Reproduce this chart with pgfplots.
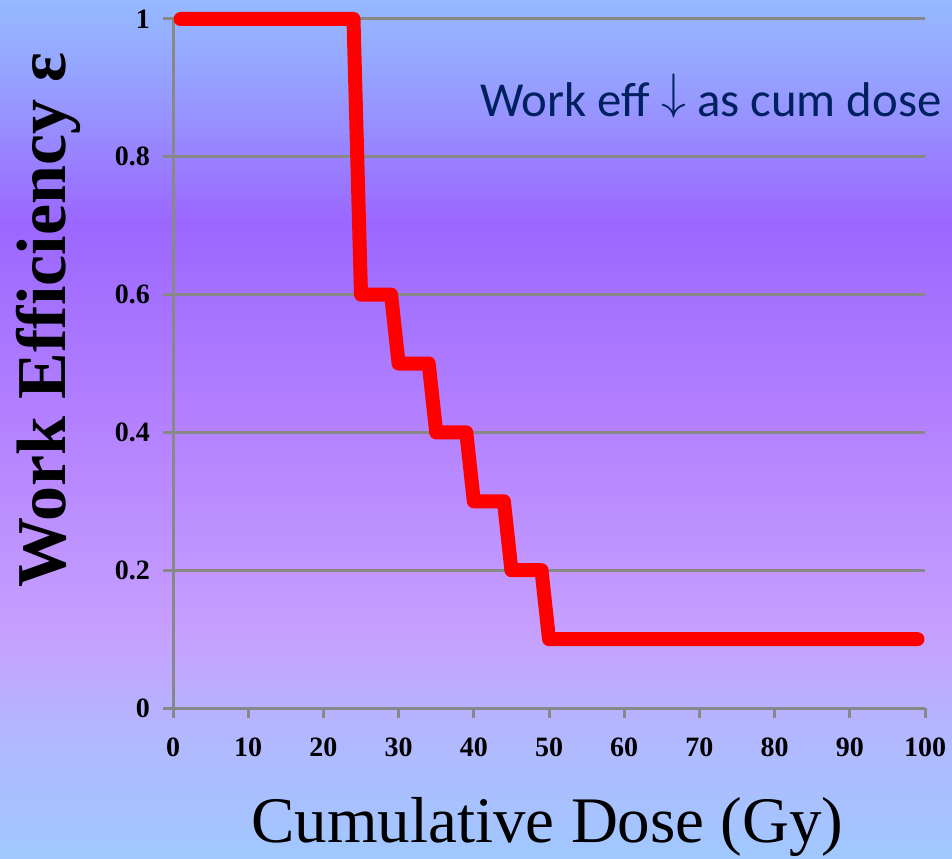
\documentclass[border=0pt]{standalone}
\usepackage{fontspec}
\usepackage{pgfplots}
\pgfplotsset{compat=1.18}
\setmainfont{Liberation Serif}
\newfontfamily\annfont{Carlito}
\definecolor{gridgray}{RGB}{136,136,136}
\definecolor{anncol}{RGB}{0,32,96}
\definecolor{bgA}{RGB}{160,200,255}
\definecolor{bgB}{RGB}{178,184,255}
\definecolor{bgC}{RGB}{198,160,255}
\definecolor{bgD}{RGB}{180,130,255}
\definecolor{bgE}{RGB}{155,103,255}
\definecolor{bgF}{RGB}{150,165,255}
\definecolor{bgG}{RGB}{150,185,255}
\pgfdeclareverticalshading{bgshade}{100bp}{color(0bp)=(bgA); color(25bp)=(bgA); color(32bp)=(bgB); color(38bp)=(bgC); color(50bp)=(bgD); color(62bp)=(bgE); color(71bp)=(bgF); color(75bp)=(bgG); color(100bp)=(bgG)}
\begin{document}
\begin{tikzpicture}[x=1pt,y=1pt]
\useasboundingbox (0,0) rectangle (476,429);
\shade[shading=bgshade] (0,0) rectangle (476,429);
\begin{axis}[
  at={(86.5pt,75pt)}, anchor=south west,
  scale only axis, width=376pt, height=344.5pt,
  xmin=0, xmax=100, ymin=0, ymax=1,
  clip=false,
  axis x line=bottom, axis y line=left,
  axis line style={-, draw=gridgray, line width=1.5pt},
  tick align=outside, major tick length=5pt,
  tick style={draw=gridgray, line width=1.5pt},
  ymajorgrids, grid style={draw=gridgray, line width=1.5pt},
  xtick={0,10,20,30,40,50,60,70,80,90,100},
  xticklabels={0,10,20,30,40,50,60,70,80,90,100},
  ytick={0,0.2,0.4,0.6,0.8,1},
  yticklabels={0,0.2,0.4,0.6,0.8,1},
  tick label style={font=\bfseries\fontsize{14}{14}\selectfont},
  xticklabel style={anchor=base, yshift=-19pt},
  yticklabel style={anchor=east, xshift=-3pt},
]
\addplot[red, line width=7pt, line join=round, line cap=round] coordinates {
(1,1) (24,1) (25,0.6) (29,0.6) (30,0.5) (34,0.5) (35,0.4) (39,0.4) (40,0.3) (44,0.3) (45,0.2) (49,0.2) (50,0.1) (99,0.1)};
\end{axis}
\node[anchor=base, inner sep=0, font=\fontsize{32.5}{32.5}\selectfont] at (273.75,8) {Cumulative Dose (Gy)};
\node[rotate=90, anchor=base, inner sep=0, font=\bfseries\fontsize{35}{35}\selectfont] at (32.5,269) {Work Efficiency ε};
\node[anchor=base west, inner sep=0, text=anncol, font=\annfont\fontsize{24.4}{24.4}\selectfont] at (240,370.5) {Work eff \raisebox{4pt}{$\downarrow$} as cum dose};
\end{tikzpicture}
\end{document}
